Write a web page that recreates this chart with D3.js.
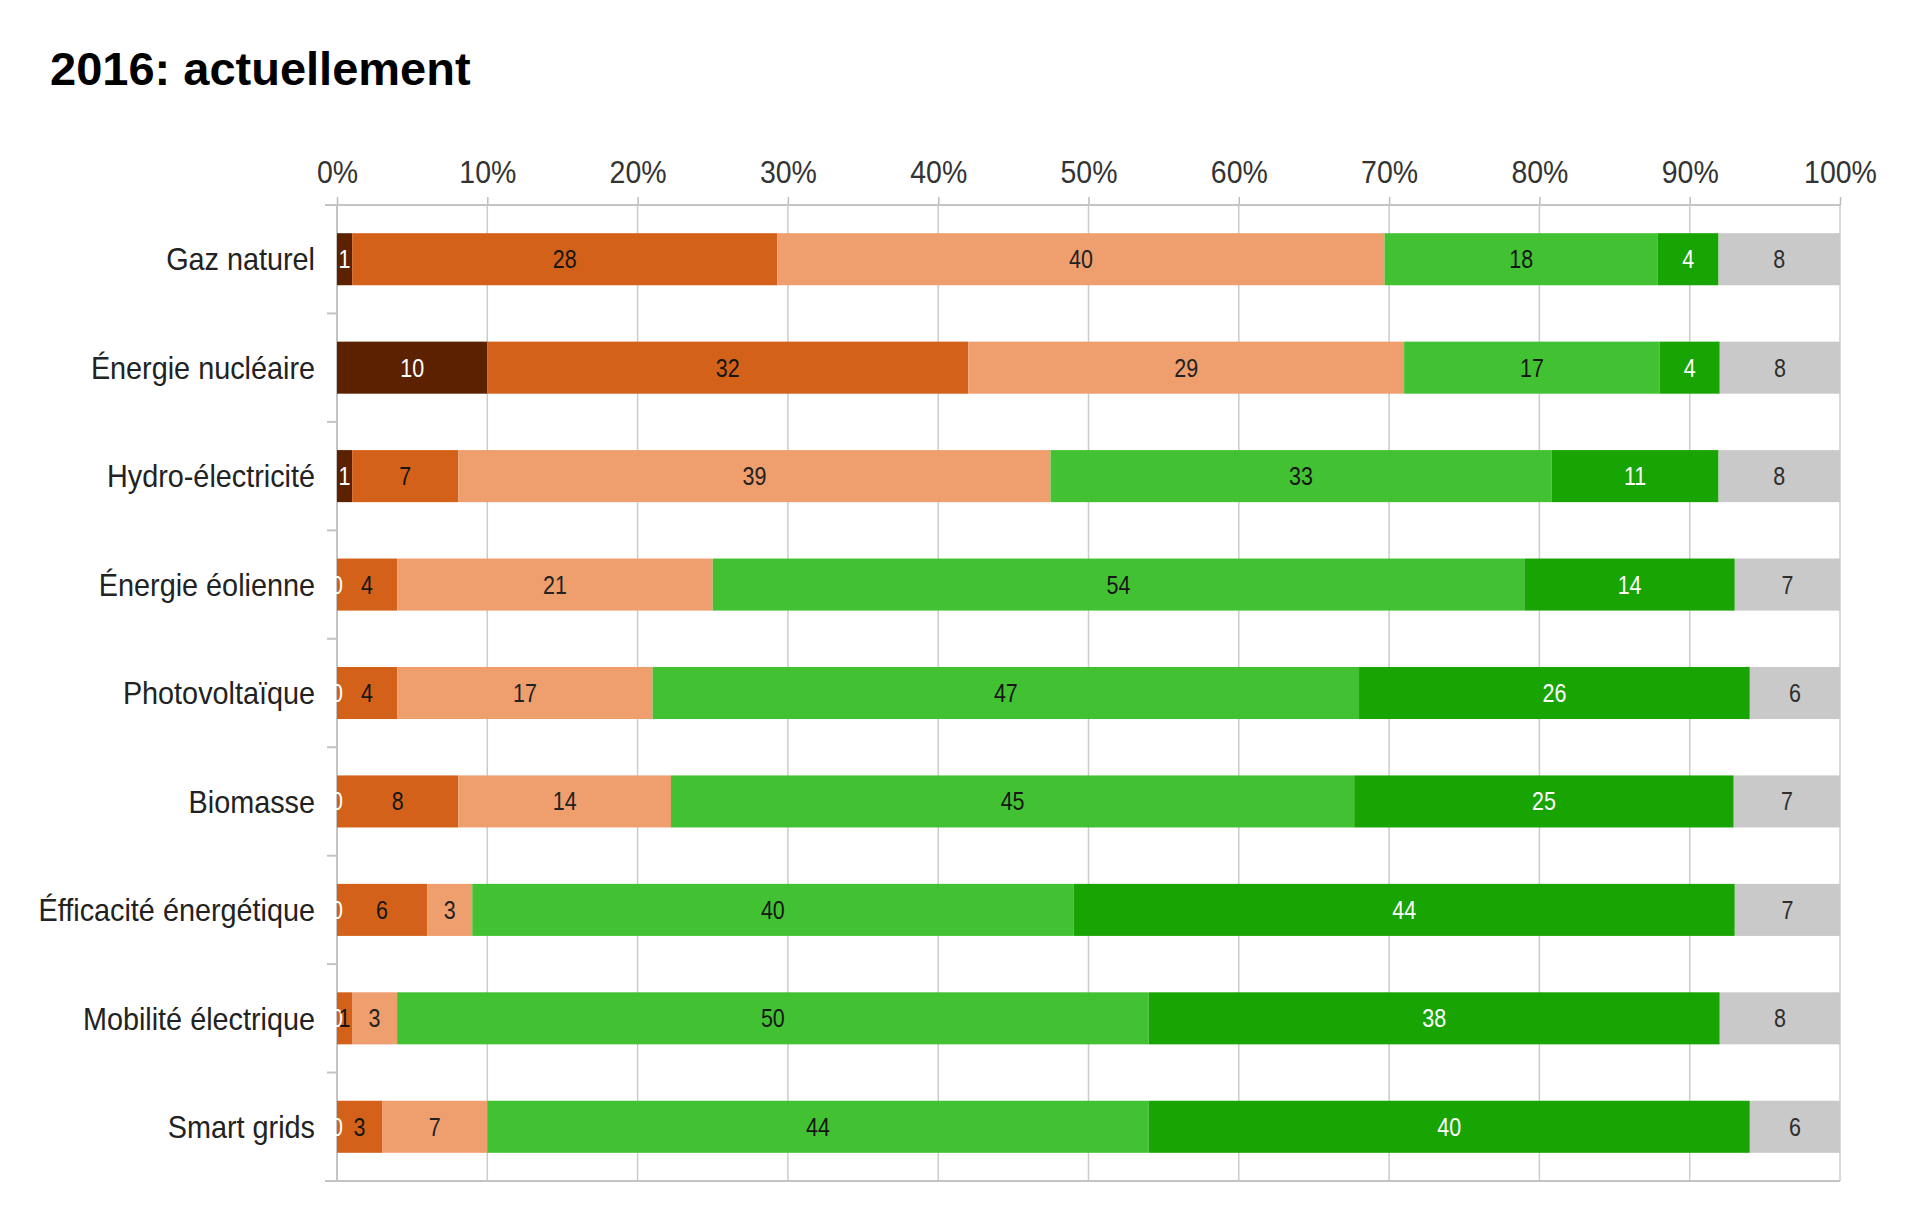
<!DOCTYPE html>
<html>
<head>
<meta charset="utf-8">
<script src="https://cdnjs.cloudflare.com/ajax/libs/d3/7.8.5/d3.min.js"></script>
<style>
    body { margin: 0; background: #fff; }
    text { font-family: "Liberation Sans", Arial, sans-serif; }
</style>
</head>
<body>
<div id="chart-container"></div>
<script>
// chart data
var categories = ["Gaz naturel", "Énergie nucléaire", "Hydro-électricité", "Énergie éolienne",
    "Photovoltaïque", "Biomasse", "Éfficacité énergétique", "Mobilité électrique", "Smart grids"];
var s1 = [1, 10, 1, 0, 0, 0, 0, 0, 0];
var s2 = [28, 32, 7, 4, 4, 8, 6, 1, 3];
var s3 = [40, 29, 39, 21, 17, 14, 3, 3, 7];
var s4 = [18, 17, 33, 54, 47, 45, 40, 50, 44];
var s5 = [4, 4, 11, 14, 26, 25, 44, 38, 40];
var s6 = [8, 8, 8, 7, 6, 7, 7, 8, 6];
var tickValues = [0, 0.1, 0.2, 0.3, 0.4, 0.5, 0.6, 0.7, 0.8, 0.9, 1];
var tickLabels = ["0%", "10%", "20%", "30%", "40%", "50%", "60%", "70%", "80%", "90%", "100%"];
var title = "2016: actuellement";

var keys = ["s1", "s2", "s3", "s4", "s5", "s6"];
var colors = ["#5c2200", "#d3611a", "#ef9e6e", "#42c232", "#18a402", "#c9c9c9"];
var labelColors = ["#ffffff", "#161616", "#222222", "#161616", "#ffffff", "#2e2e2e"];

var margin = {top: 205, right: 80, bottom: 40, left: 337};
var width = 1503, height = 976;

var table = categories.map(function (c, i) {
    return {cat: c, s1: s1[i], s2: s2[i], s3: s3[i], s4: s4[i], s5: s5[i], s6: s6[i]};
});

var stacked = d3.stack().keys(keys).offset(d3.stackOffsetExpand)(table);

var root = d3.select("#chart-container")
    .append("svg")
    .attr("width", 1920)
    .attr("height", 1221)
    .style("background", "#fff");

root.append("text")
    .attr("x", 50)
    .attr("y", 85)
    .style("font-size", "47px")
    .style("font-weight", "bold")
    .style("fill", "#000")
    .text(title);

var svg = root.append("g")
    .attr("transform", "translate(" + margin.left + "," + margin.top + ")");

var x = d3.scaleLinear().domain([0, 1]).range([0, width]);
var y = d3.scaleBand().domain(categories).range([0, height])
    .paddingInner(0.52).paddingOuter(0.26);

// grid
svg.selectAll("line.grid")
    .data(tickValues)
    .enter().append("line")
    .attr("class", "grid")
    .attr("x1", function (d) { return x(d); })
    .attr("x2", function (d) { return x(d); })
    .attr("y1", 0)
    .attr("y2", height)
    .style("stroke", "#cccccc")
    .style("stroke-width", 1.5);

// top axis
var xAxis = d3.axisTop(x)
    .tickValues(tickValues)
    .tickFormat(function (d, i) { return tickLabels[i]; })
    .tickSize(8)
    .tickPadding(14);

var gx = svg.append("g")
    .attr("class", "x-axis")
    .call(xAxis);
gx.select(".domain").remove();
gx.selectAll(".tick line").style("stroke", "#bdbdbd").style("stroke-width", 1.5);
gx.selectAll(".tick text")
    .style("font-family", "'Liberation Sans', Arial, sans-serif")
    .style("font-size", "32px")
    .style("fill", "#333")
    .attr("transform", "scale(0.89,1)");

// axis lines
svg.append("line").attr("x1", -12).attr("x2", width).attr("y1", 0).attr("y2", 0)
    .style("stroke", "#c4c4c4").style("stroke-width", 2);
svg.append("line").attr("x1", -12).attr("x2", width).attr("y1", height).attr("y2", height)
    .style("stroke", "#c4c4c4").style("stroke-width", 2);
svg.append("line").attr("x1", 0).attr("x2", 0).attr("y1", 0).attr("y2", height)
    .style("stroke", "#c4c4c4").style("stroke-width", 2);

// category ticks between bands
var bounds = categories.slice(1).map(function (c) {
    return y(c) - y.step() * y.paddingInner() / 2;
});
svg.selectAll("line.ctick")
    .data(bounds)
    .enter().append("line")
    .attr("class", "ctick")
    .attr("x1", -10).attr("x2", 0)
    .attr("y1", function (d) { return d; })
    .attr("y2", function (d) { return d; })
    .style("stroke", "#c4c4c4")
    .style("stroke-width", 2);

// category labels
svg.selectAll("text.cat")
    .data(categories)
    .enter().append("text")
    .attr("class", "cat")
    .attr("transform", function (d) {
        return "translate(-22," + (y(d) + y.bandwidth() / 2) + ") scale(0.9,1)";
    })
    .attr("dy", "0.35em")
    .style("text-anchor", "end")
    .style("font-size", "32px")
    .style("fill", "#222")
    .text(function (d) { return d; });

// bars
var layers = svg.selectAll("g.layer")
    .data(stacked)
    .enter().append("g")
    .attr("class", "layer")
    .style("fill", function (d, i) { return colors[i]; });

layers.selectAll("rect")
    .data(function (d) { return d; })
    .enter().append("rect")
    .attr("x", function (d) { return x(d[0]); })
    .attr("width", function (d) { return x(d[1]) - x(d[0]); })
    .attr("y", function (d) { return y(d.data.cat); })
    .attr("height", y.bandwidth());

// value labels (zero segments too, like the original: a white 0 at the bar start)
stacked.forEach(function (layer, i) {
    svg.selectAll("text.v" + i)
        .data(layer)
        .enter().append("text")
        .attr("class", "v" + i)
        .attr("transform", function (d) {
            var cx = (x(d[0]) + x(d[1])) / 2;
            return "translate(" + cx + "," + (y(d.data.cat) + y.bandwidth() / 2) + ") scale(0.86,1)";
        })
        .attr("dy", "0.36em")
        .style("text-anchor", "middle")
        .style("font-size", "25px")
        .style("fill", labelColors[i])
        .text(function (d) { return d.data[layer.key]; });
});
</script>
</body>
</html>
